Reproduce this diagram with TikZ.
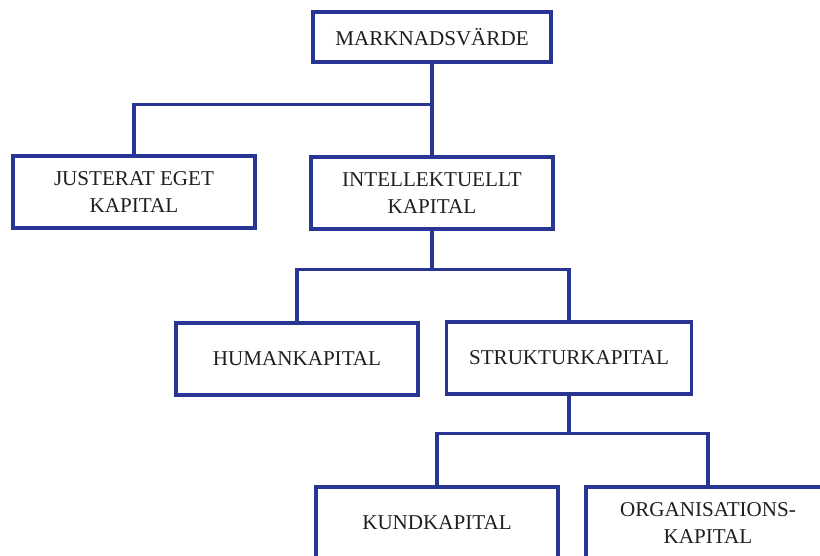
\documentclass[tikz,border=0pt]{standalone}
\usepackage{fontspec}
\setmainfont{Liberation Serif}
\usepackage{xcolor}
\definecolor{navy}{HTML}{283593}
\definecolor{ink}{HTML}{1F1F1F}
\usepackage{tikz}
\usetikzlibrary{positioning,calc}
\tikzset{
  every picture/.style={line width=2.4pt},
  box/.style={draw=navy, fill=white, align=center, text=ink,
    font=\fontsize{15}{19.2}\selectfont, inner sep=3pt,
    minimum width=#1, minimum height=1.8cm},
  box/.default=6.05cm,
  link/.style={draw=navy},
}
\begin{document}
\begin{tikzpicture}[x=0.025cm, y=-0.025cm]
  \clip (0,0) rectangle (820,556);
  \fill[white] (0,0) rectangle (820,556);
  % top level
  \node[box=5.95cm, minimum height=1.25cm] (markt) at (432,37) {MARKNADSVÄRDE};
  \node[box] (justerat) at (134,192) {JUSTERAT EGET\\KAPITAL};
  \node[box] (intell) at (432,193) {INTELLEKTUELLT\\KAPITAL};
  % second level
  \node[box] (human) at (297,359) {HUMANKAPITAL};
  \node[box=6.13cm] (struktur) at (569,358) {STRUKTURKAPITAL};
  % third level
  \node[box] (kund) at (437,523) {KUNDKAPITAL};
  \node[box=6.1cm] (org) at (708,523) {ORGANISATIONS-\\KAPITAL};
  % connectors
  \path (markt.south) ++(0,41) coordinate (bus1);
  \draw[link] (markt.south) -- (intell.north);
  \draw[link] (bus1) -| (justerat.north);
  \draw[link] (intell.south) -- ++(0,39) coordinate (bus2);
  \draw[link] (human.north) |- (bus2 -| struktur.north) -- (struktur.north);
  \draw[link] (struktur.south) -- ++(0,38) coordinate (bus3);
  \draw[link] (kund.north) |- (bus3 -| org.north) -- (org.north);
\end{tikzpicture}
\end{document}
